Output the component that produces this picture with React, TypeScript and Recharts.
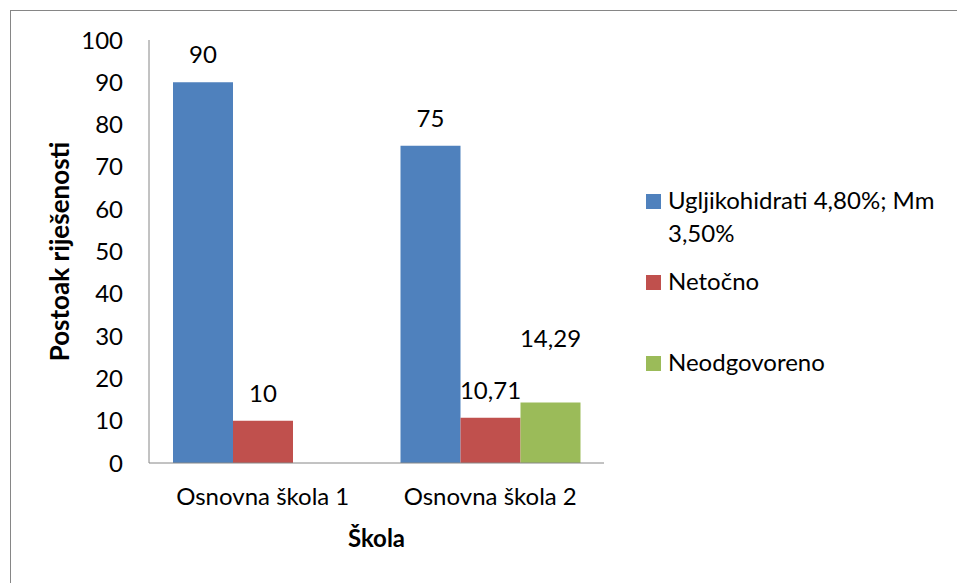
import { BarChart, Bar, XAxis, YAxis, LabelList } from 'recharts';

const schools = ['Osnovna škola 1', 'Osnovna škola 2'];
const ugljikohidrati = [90, 75];
const netocno = [10, 10.71];
const neodgovoreno: (number | null)[] = [null, 14.29];
const yTicks = [0, 10, 20, 30, 40, 50, 60, 70, 80, 90, 100];

const series = [
  { key: 'ugljikohidrati', name: 'Ugljikohidrati 4,80%; Mm 3,50%', color: '#4F81BD', labelOffset: 19 },
  { key: 'netocno', name: 'Netočno', color: '#C0504D', labelOffset: 19 },
  { key: 'neodgovoreno', name: 'Neodgovoreno', color: '#9BBB59', labelOffset: 56 },
];

const data = schools.map((school, i) => ({
  school,
  ugljikohidrati: ugljikohidrati[i],
  netocno: netocno[i],
  neodgovoreno: neodgovoreno[i],
}));

const FONT = 'Lato, "Open Sans", sans-serif';
const AXIS = '#868686';
const FS = 24;

const fmt = (v: any) => (v == null ? '' : String(v).replace('.', ','));

export default function App() {
  return (
    <div
      style={{
        position: 'absolute',
        left: 0,
        top: 0,
        width: 957,
        height: 583,
        overflow: 'hidden',
        background: '#fff',
        fontFamily: FONT,
      }}
    >
      <div
        style={{
          position: 'absolute',
          left: 10,
          top: 10,
          width: 1000,
          height: 1000,
          border: `1px solid ${AXIS}`,
        }}
      />
      <div style={{ position: 'absolute', left: 0, top: 0 }}>
        <BarChart
          width={957}
          height={583}
          data={data}
          margin={{ top: 40, right: 353, bottom: 0, left: 0 }}
          barSize={60}
          barGap={0}
        >
          <XAxis
            dataKey="school"
            height={120}
            axisLine={{ stroke: AXIS }}
            tickLine={false}
            tickMargin={19}
            tick={{ fill: '#000', fontSize: FS, fontFamily: FONT }}
            label={{
              value: 'Škola',
              position: 'insideBottom',
              offset: 36,
              style: { fill: '#000', fontSize: FS, fontWeight: 700, fontFamily: FONT },
            }}
          />
          <YAxis
            width={149}
            domain={[0, 100]}
            ticks={yTicks}
            interval={0}
            axisLine={{ stroke: AXIS }}
            tickLine={false}
            tickMargin={20}
            tick={{ fill: '#000', fontSize: FS, fontFamily: FONT }}
            label={{
              value: 'Postoak riješenosti',
              angle: -90,
              position: 'insideLeft',
              offset: 60,
              style: { textAnchor: 'middle', fill: '#000', fontSize: 26, fontWeight: 700, fontFamily: FONT },
            }}
          />
          {series.map((s) => (
            <Bar key={s.key} dataKey={s.key} name={s.name} fill={s.color} isAnimationActive={false}>
              <LabelList
                dataKey={s.key}
                position="top"
                offset={s.labelOffset}
                formatter={fmt}
                style={{ fill: '#000', fontSize: FS, fontFamily: FONT }}
              />
            </Bar>
          ))}
        </BarChart>
      </div>
      <div style={{ position: 'absolute', left: 646, top: 186 }}>
        {series.map((s) => (
          <div key={s.key} style={{ height: 81, display: 'flex', alignItems: 'flex-start' }}>
            <div
              style={{
                width: 15,
                height: 15,
                background: s.color,
                marginTop: 8,
                marginRight: 7,
                flex: 'none',
              }}
            />
            <div style={{ width: 285, fontSize: FS, lineHeight: '33px', marginTop: -3, color: '#000' }}>
              {s.name}
            </div>
          </div>
        ))}
      </div>
    </div>
  );
}
